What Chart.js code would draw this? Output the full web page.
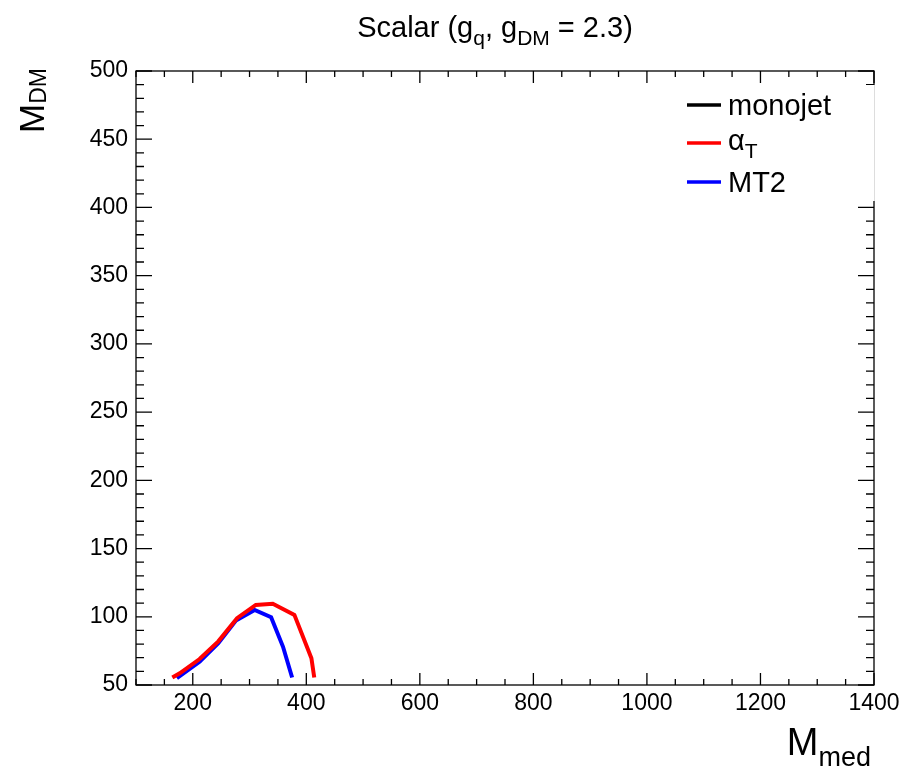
<!DOCTYPE html>
<html>
<head>
<meta charset="utf-8">
<script src="https://cdn.jsdelivr.net/npm/chart.js@4.4.1/dist/chart.umd.min.js"></script>
<style>
html,body{margin:0;padding:0;background:#fff;}
#wrap{width:905px;height:768px;}
</style>
</head>
<body>
<div id="wrap"><canvas id="c" width="905" height="768"></canvas></div>
<script>
// ---- data ----
const xTickValues = [200, 400, 600, 800, 1000, 1200, 1400];
const yTickValues = [50, 100, 150, 200, 250, 300, 350, 400, 450, 500];
const monojetX = [];
const monojetY = [];
const alphaTX = [164, 177, 212, 245, 278, 311, 341, 379, 409, 414];
const alphaTY = [55.5, 58.6, 69, 82, 99, 108.7, 109.5, 101.4, 69.6, 55.5];
const mt2X = [172, 212, 245, 276, 309, 338, 359, 375];
const mt2Y = [55, 67, 80.6, 97.2, 105, 99.7, 78, 55.5];
const seriesNames = ['monojet', 'αT', 'MT2'];

function pts(xs, ys) { return xs.map((x, i) => ({x: x, y: ys[i]})); }

const FONT = '"Liberation Sans", Arial, Helvetica, sans-serif';

// draw text made of [text, sub] pieces
function drawRich(ctx, parts, x, y, size, subSize, subDrop, align) {
  let total = 0;
  const widths = parts.map(p => {
    ctx.font = (p[1] ? subSize : size) + 'px ' + FONT;
    const w = ctx.measureText(p[0]).width;
    total += w;
    return w;
  });
  let cx = x;
  if (align === 'center') cx = x - total / 2;
  else if (align === 'right') cx = x - total;
  ctx.textAlign = 'left';
  ctx.textBaseline = 'alphabetic';
  parts.forEach((p, i) => {
    ctx.font = (p[1] ? subSize : size) + 'px ' + FONT;
    ctx.fillText(p[0], cx, p[1] ? y + subDrop : y);
    cx += widths[i];
  });
  return total;
}

const framePlugin = {
  id: 'rootFrame',
  afterDatasetsDraw(chart) {
    const ctx = chart.ctx;
    const xs = chart.scales.x, ys = chart.scales.y;
    const a = chart.chartArea;
    ctx.save();
    ctx.strokeStyle = '#000';
    ctx.lineWidth = 1.3;
    ctx.strokeRect(a.left, a.top, a.right - a.left, a.bottom - a.top);
    for (let v = xs.min; v <= xs.max + 1e-6; v += 50) {
      const px = xs.getPixelForValue(v);
      const major = Math.abs(v % 200) < 1e-6;
      const len = major ? 12 : 6;
      ctx.beginPath();
      ctx.moveTo(px, a.bottom); ctx.lineTo(px, a.bottom - len);
      ctx.moveTo(px, a.top); ctx.lineTo(px, a.top + len);
      ctx.stroke();
    }
    for (let v = ys.min; v <= ys.max + 1e-6; v += 10) {
      const py = ys.getPixelForValue(v);
      const major = Math.abs(v % 50) < 1e-6;
      const len = major ? 16 : 8;
      ctx.beginPath();
      ctx.moveTo(a.left, py); ctx.lineTo(a.left + len, py);
      ctx.moveTo(a.right, py); ctx.lineTo(a.right - len, py);
      ctx.stroke();
    }
    ctx.restore();
  },
  afterDraw(chart) {
    const ctx = chart.ctx;
    const a = chart.chartArea;
    ctx.save();
    ctx.fillStyle = '#000';
    // title
    drawRich(ctx, [['Scalar (g', 0], ['q', 1], [', g', 0], ['DM', 1], [' = 2.3)', 0]],
      495, 37, 29, 21, 8, 'center');
    // x title
    drawRich(ctx, [['M', 0], ['med', 1]], 871, 755, 38, 27, 11, 'right');
    // y title
    ctx.save();
    ctx.translate(44, 133);
    ctx.rotate(-Math.PI / 2);
    drawRich(ctx, [['M', 0], ['DM', 1]], 0, 0, 35, 23, 2, 'left');
    ctx.restore();

    // legend box
    ctx.fillStyle = '#fff';
    ctx.fillRect(680, 85, a.right - 680 + 1, 116);
    ctx.strokeStyle = '#ddd';
    ctx.lineWidth = 1;
    ctx.beginPath();
    ctx.moveTo(a.right + 0.5, 85); ctx.lineTo(a.right + 0.5, 201);
    ctx.stroke();
    const rows = [105, 143, 182];
    chart.data.datasets.forEach((ds, i) => {
      const y = rows[i];
      ctx.strokeStyle = ds.borderColor;
      ctx.lineWidth = 3.5;
      ctx.beginPath();
      ctx.moveTo(687, y); ctx.lineTo(721, y);
      ctx.stroke();
      ctx.fillStyle = '#000';
      if (i === 1) {
        drawRich(ctx, [['α', 0], ['T', 1]], 728, y + 7, 29, 21, 8, 'left');
      } else {
        drawRich(ctx, [[ds.label, 0]], 728, y + 10, 29, 21, 0, 'left');
      }
    });
    ctx.restore();
  }
};

new Chart(document.getElementById('c'), {
  type: 'line',
  data: {
    datasets: [
      {label: seriesNames[0], data: pts(monojetX, monojetY), borderColor: '#000000', borderWidth: 4, pointRadius: 0, fill: false, tension: 0},
      {label: seriesNames[1], data: pts(alphaTX, alphaTY), borderColor: '#ff0000', borderWidth: 4, pointRadius: 0, fill: false, tension: 0},
      {label: seriesNames[2], data: pts(mt2X, mt2Y), borderColor: '#0000ff', borderWidth: 4, pointRadius: 0, fill: false, tension: 0}
    ]
  },
  options: {
    responsive: false,
    animation: false,
    layout: {padding: {left: 0, right: 31, top: 71, bottom: 0}},
    plugins: {legend: {display: false}, title: {display: false}, tooltip: {enabled: false}},
    scales: {
      x: {
        type: 'linear', min: 100, max: 1400,
        grid: {display: false, drawTicks: false},
        border: {display: false},
        ticks: {font: {family: FONT, size: 23}, color: '#000', padding: 5, maxRotation: 0, autoSkip: false,
                callback: v => String(v)},
        afterBuildTicks(s) { s.ticks = xTickValues.map(v => ({value: v})); },
        afterFit(s) { s.height = 83; }
      },
      y: {
        type: 'linear', min: 50, max: 500,
        grid: {display: false, drawTicks: false},
        border: {display: false},
        ticks: {font: {family: FONT, size: 23}, color: '#000', padding: 8, autoSkip: false,
                callback: v => String(v)},
        afterBuildTicks(s) { s.ticks = yTickValues.map(v => ({value: v})); },
        afterFit(s) { s.width = 136; }
      }
    }
  },
  plugins: [framePlugin]
});
</script>
</body>
</html>
